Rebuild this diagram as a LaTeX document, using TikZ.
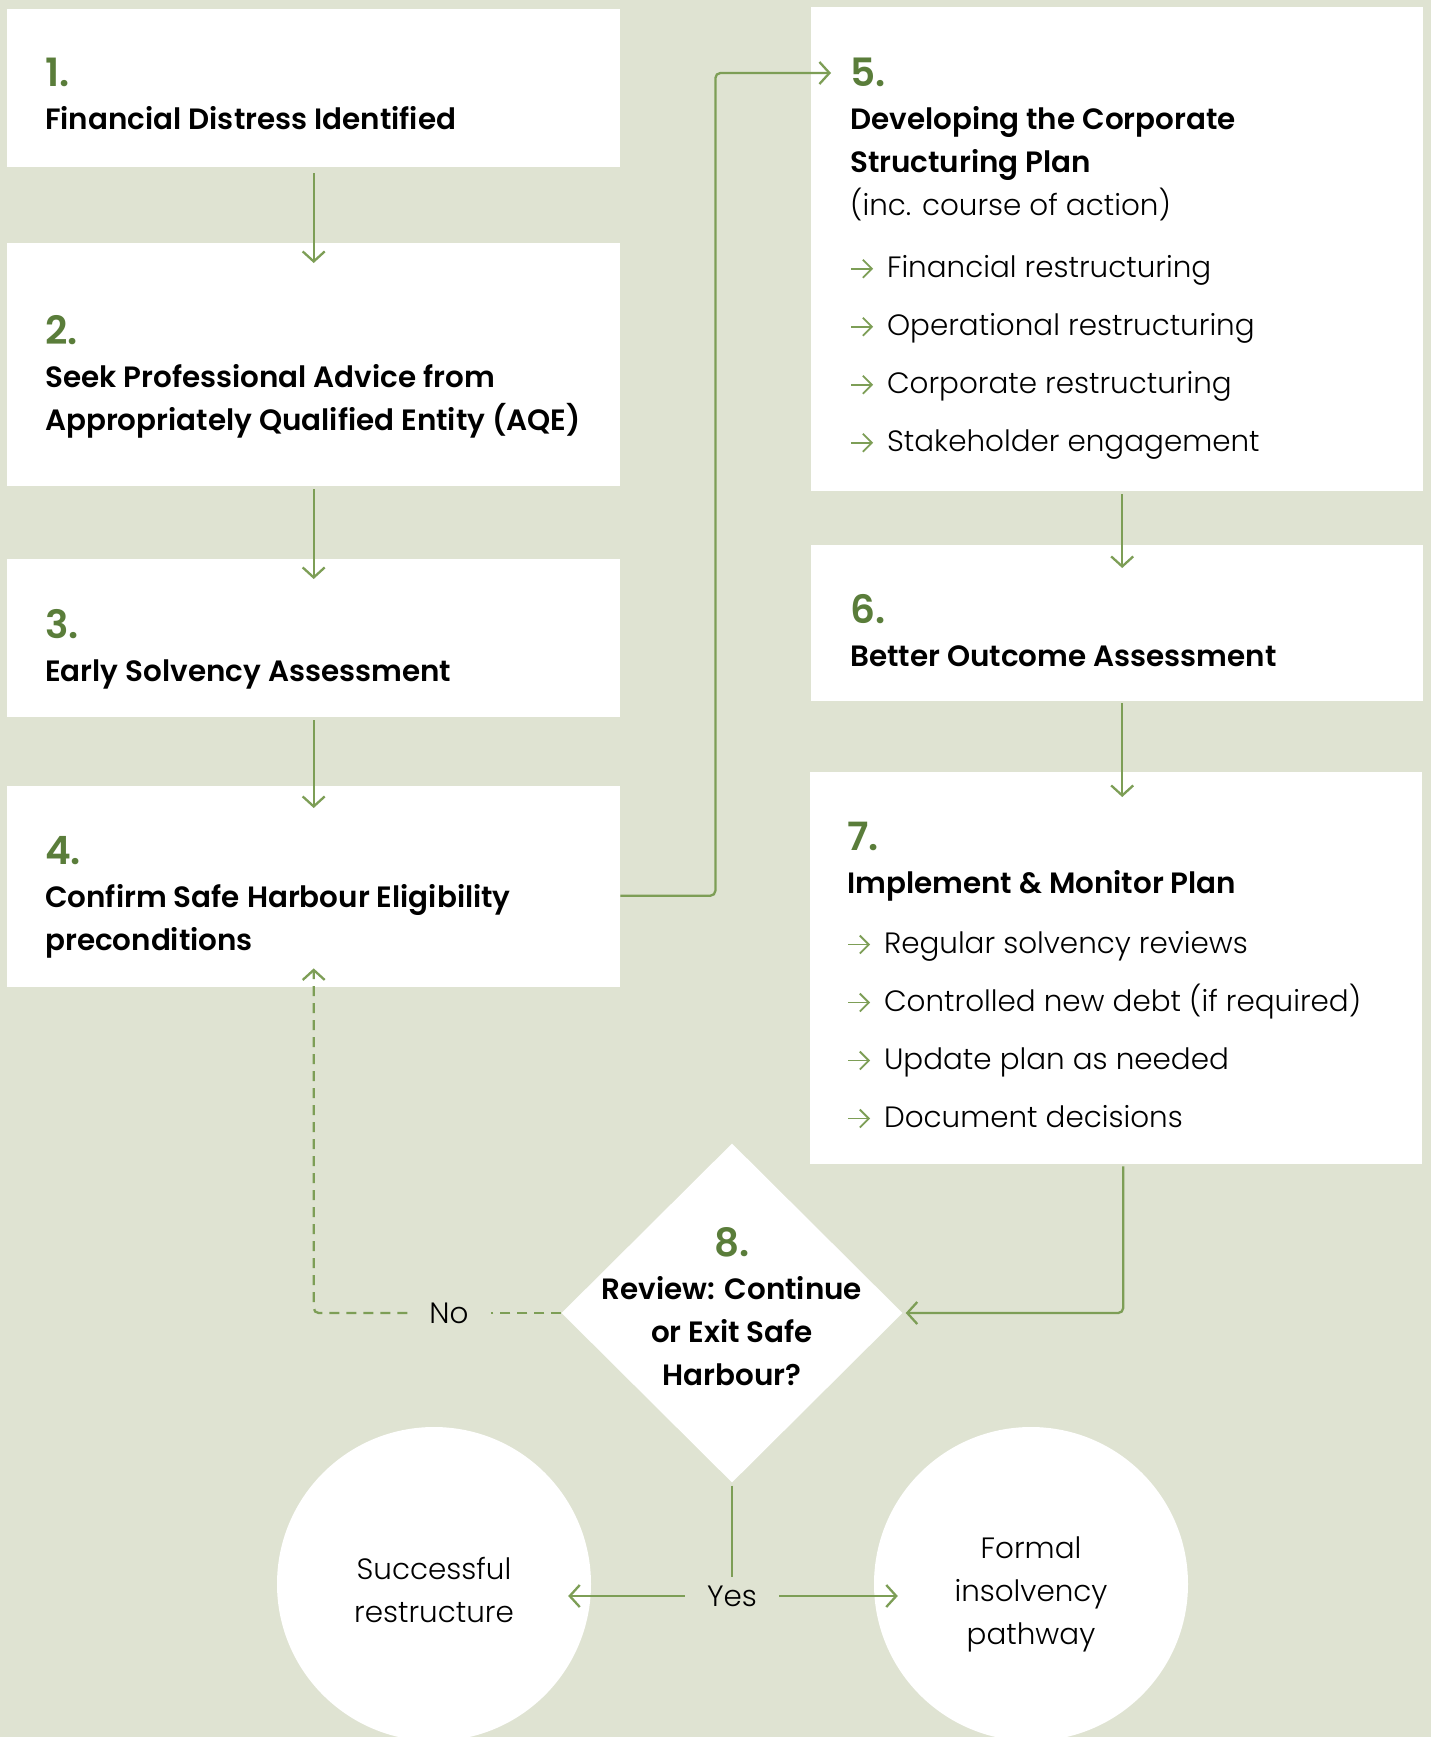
\documentclass[tikz,border=0pt]{standalone}
\usepackage{fontspec}
\setmainfont{Poppins Light}
\newfontfamily\headfont{Poppins SemiBold}
\usetikzlibrary{positioning,shapes.geometric,arrows.meta}

\definecolor{sage}{HTML}{DFE3D2}
\definecolor{leaf}{HTML}{5A7D3A}
\definecolor{stem}{HTML}{7D9E56}

\newcommand{\stepnum}[1]{{\color{leaf}\headfont\fontsize{39}{43}\selectfont #1}}
\newcommand{\pointer}{\tikz[baseline=-9pt]\draw[stem, line width=1.8pt, -{Straight Barb[length=9pt,width=18pt]}] (0pt,0pt) -- (22pt,0pt);\hspace{13pt}}

\begin{document}
\begin{tikzpicture}[x=1pt, y=-1pt,
    box/.style={fill=white, inner sep=0pt, anchor=north west},
    words/.style={align=left, inner sep=0pt, font=\fontsize{29.4}{43}\selectfont},
    link/.style={stem, line width=2.3pt, rounded corners=5pt, -{Straight Barb[length=10pt,width=22pt]}},
    line/.style={stem, line width=2.3pt},
    dashlink/.style={link, dash pattern=on 10pt off 7pt},
    decision/.style={diamond, fill=white, aspect=1, inner sep=0pt, minimum width=341pt, minimum height=339pt},
    outcome/.style={circle, fill=white, inner sep=0pt, minimum size=314pt},
    tag/.style={inner xsep=22pt, inner ysep=8pt, font=\fontsize{29.4}{43}\selectfont}]
    \clip (0,0) rectangle (1431,1737);
    \fill[sage] (0,0) rectangle (1431,1737);
    % boxes
    \node[box, minimum width=613pt, minimum height=158pt] (b1) at (7,9)   {};
    \node[box, minimum width=613pt, minimum height=243pt] (b2) at (7,243) {};
    \node[box, minimum width=613pt, minimum height=158pt] (b3) at (7,559) {};
    \node[box, minimum width=613pt, minimum height=201pt] (b4) at (7,786) {};
    \node[box, minimum width=612pt, minimum height=484pt] (b5) at (811,7)   {};
    \node[box, minimum width=612pt, minimum height=156pt] (b6) at (811,545) {};
    \node[box, minimum width=612pt, minimum height=392pt] (b7) at (810,772) {};
    \node[decision] (q8) at (732,1313) {};
    \node[outcome] (c1) at (434,1584) {};
    \node[outcome] (c2) at (1031,1584) {};
    % texts
    \node[words] (t1) [below right=49pt and 38pt of b1.north west]
        {\stepnum{1.}\\ {\headfont Financial Distress Identified}};
    \node[words] (t2) [below right=72pt and 38pt of b2.north west]
        {\stepnum{2.}\\ {\headfont Seek Professional Advice from}\\ {\headfont Appropriately Qualified Entity (AQE)}};
    \node[words] (t3) [below right=50pt and 38pt of b3.north west]
        {\stepnum{3.}\\ {\headfont Early Solvency Assessment}};
    \node[words] (t4) [below right=50pt and 38pt of b4.north west]
        {\stepnum{4.}\\ {\headfont Confirm Safe Harbour Eligibility}\\ {\headfont preconditions}};
    \node[words] (t5) [below right=51pt and 39pt of b5.north west]
        {\stepnum{5.}\\ {\headfont Developing the Corporate}\\ {\headfont Structuring Plan}\\ (inc. course of action)\\[19pt]
         \pointer Financial restructuring\\[15pt] \pointer Operational restructuring\\[15pt]
         \pointer Corporate restructuring\\[15pt] \pointer Stakeholder engagement};
    \node[words] (t6) [below right=49pt and 39pt of b6.north west]
        {\stepnum{6.}\\ {\headfont Better Outcome Assessment}};
    \node[words] (t7) [below right=50pt and 37pt of b7.north west]
        {\stepnum{7.}\\ {\headfont Implement \& Monitor Plan}\\[17pt]
         \pointer Regular solvency reviews\\[15pt] \pointer Controlled new debt (if required)\\[15pt]
         \pointer Update plan as needed\\[15pt] \pointer Document decisions};
    \node[words, align=center] (t8) at ([yshift=6pt]q8.center)
        {\stepnum{8.}\\ {\headfont Review: Continue}\\ {\headfont or Exit Safe}\\ {\headfont Harbour?}};
    \node[words, align=center] (t9)  at ([yshift=-5.5pt]c1.center) {Successful\\restructure};
    \node[words, align=center] (t10) at ([yshift=-10pt]c2.center) {Formal\\insolvency\\pathway};
    \node[tag] (no)  at (449,1313) {No};
    \node[tag] (yes) at (732,1596) {Yes};
    \coordinate (c1in) at ([xshift=-23pt]c1.east);
    \coordinate (c2in) at ([xshift=24pt]c2.west);
    % lines
    \draw[link] ([yshift=-6pt]b1.south) -- ([yshift=-20pt]b2.north);
    \draw[link] ([yshift=-3pt]b2.south) -- ([yshift=-20pt]b3.north);
    \draw[link] ([yshift=-3pt]b3.south) -- ([yshift=-22pt]b4.north);
    \draw[link] ([yshift=-9pt]b4.east) -- ++(95pt,0) |- ([xshift=20pt,yshift=-66pt]b5.north west);
    \draw[link] ([xshift=5pt,yshift=-3pt]b5.south) -- ([xshift=5pt,yshift=-23pt]b6.north);
    \draw[link] ([xshift=5pt,yshift=-2pt]b6.south) -- ([xshift=6pt,yshift=-25pt]b7.north);
    \draw[link] ([xshift=7pt,yshift=-2pt]b7.south) |- ([xshift=3pt]q8.east);
    \draw[line, dash pattern=on 10pt off 7pt] (q8.west) -- (no.east);
    \draw[dashlink] (no.west) -| ([yshift=19pt]b4.south);
    \draw[line] ([yshift=-3pt]q8.south) -- (yes.north);
    \draw[link] (yes.west) -- (yes.west -| c1in);
    \draw[link] (yes.east) -- (yes.east -| c2in);
\end{tikzpicture}
\end{document}
